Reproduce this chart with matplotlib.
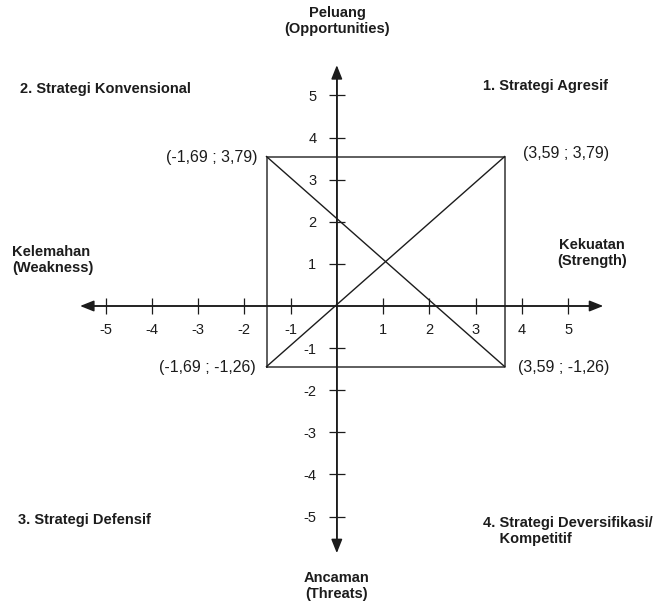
"""
Diagram matriks SWOT (posisi strategi) dengan empat kuadran.
"""

import matplotlib.pyplot as plt

plt.rcParams["font.family"] = ["Liberation Sans", "DejaVu Sans"]
plt.rcParams["axes.unicode_minus"] = False

# data
ticks = [-5, -4, -3, -2, -1, 1, 2, 3, 4, 5]
rect_x = [-1.52, 3.63, 3.63, -1.52, -1.52]
rect_y = [-1.44, -1.44, 3.55, 3.55, -1.44]
diag1_x = [-1.52, 3.63]
diag1_y = [-1.44, 3.55]
diag2_x = [-1.52, 3.63]
diag2_y = [3.55, -1.44]
corner_x = [-1.52, 3.63, -1.52, 3.63]
corner_y = [3.55, 3.55, -1.44, -1.44]
corner_labels = ["(-1,69 ; 3,79)", "(3,59 ; 3,79)", "(-1,69 ; -1,26)", "(3,59 ; -1,26)"]
quadrant_labels = ["1. Strategi Agresif", "2. Strategi Konvensional",
                   "3. Strategi Defensif", "4. Strategi Deversifikasi/\n    Kompetitif"]
axis_labels = ["Peluang\n(Opportunities)", "Ancaman\n(Threats)",
               "Kelemahan\n(Weakness)", "Kekuatan\n(Strength)"]

W, H = 668, 608
fig = plt.figure(figsize=(W / 100, H / 100), dpi=100)
ax = fig.add_axes([0, 0, 1, 1])

# skala: 46.25 px per unit (x), 42.1 px per unit (y), titik nol di (336.8, 306)
ax.set_xlim(-336.8 / 46.25, (W - 336.8) / 46.25)
ax.set_ylim(-(H - 306) / 42.1, 306 / 42.1)

ink = "#1c1c1c"
bold = dict(fontweight="bold", fontsize=10.5, color=ink, linespacing=1.2)

def px(x, y):
    return x / W, 1 - y / H

# sumbu
for side in ["top", "right"]:
    ax.spines[side].set_visible(False)
ax.spines["left"].set_position("zero")
ax.spines["bottom"].set_position("zero")
ax.spines["left"].set_bounds(-5.8, 5.6)
ax.spines["bottom"].set_bounds(-5.4, 5.6)
for s in ["left", "bottom"]:
    ax.spines[s].set_color(ink)
    ax.spines[s].set_linewidth(1.1)
    ax.spines[s].set_zorder(3)

ax.set_xticks(ticks)
ax.set_yticks(ticks)
ax.tick_params(direction="inout", length=11.5, width=0.9, color=ink,
               labelsize=10.5, labelcolor=ink)
ax.tick_params(axis="x", pad=6.5)
ax.tick_params(axis="y", pad=9)

arrow = dict(arrowstyle="<|-|>,head_length=0.7,head_width=0.28", color=ink,
             lw=1.1, shrinkA=0, shrinkB=0, mutation_scale=12)
ax.annotate("", xy=(5.76, 0), xytext=(-5.55, 0), arrowprops=arrow)
ax.annotate("", xy=(0, 5.72), xytext=(0, -5.87), arrowprops=arrow)

# kotak dan diagonal
ax.plot(rect_x, rect_y, color="#333333", lw=1.1)
ax.plot(diag1_x, diag1_y, color=ink, lw=1.0)
ax.plot(diag2_x, diag2_y, color=ink, lw=1.0)

# label titik sudut
offsets = [(-9, -1), (18, 3), (-11, -1), (13, -1)]
aligns = ["right", "left", "right", "left"]
for x, y, lab, off, ha in zip(corner_x, corner_y, corner_labels, offsets, aligns):
    ax.annotate(lab, (x, y), xytext=off, textcoords="offset pixels",
                ha=ha, va="center", fontsize=11.5, color=ink)

# label kuadran dan sumbu
fig.text(*px(483, 86), quadrant_labels[0], ha="left", va="center", **bold)
fig.text(*px(20, 89), quadrant_labels[1], ha="left", va="center", **bold)
fig.text(*px(18, 520), quadrant_labels[2], ha="left", va="center", **bold)
fig.text(*px(483, 531), quadrant_labels[3], ha="left", va="center", **bold)

fig.text(*px(337, 21), axis_labels[0], ha="center", va="center", **bold)
fig.text(*px(337, 586), axis_labels[1], ha="center", va="center", **bold)
fig.text(*px(12, 260), axis_labels[2], ha="left", va="center", **bold)
fig.text(*px(592, 253), axis_labels[3], ha="center", va="center", **bold)

fig.savefig("out.png", dpi=100)
